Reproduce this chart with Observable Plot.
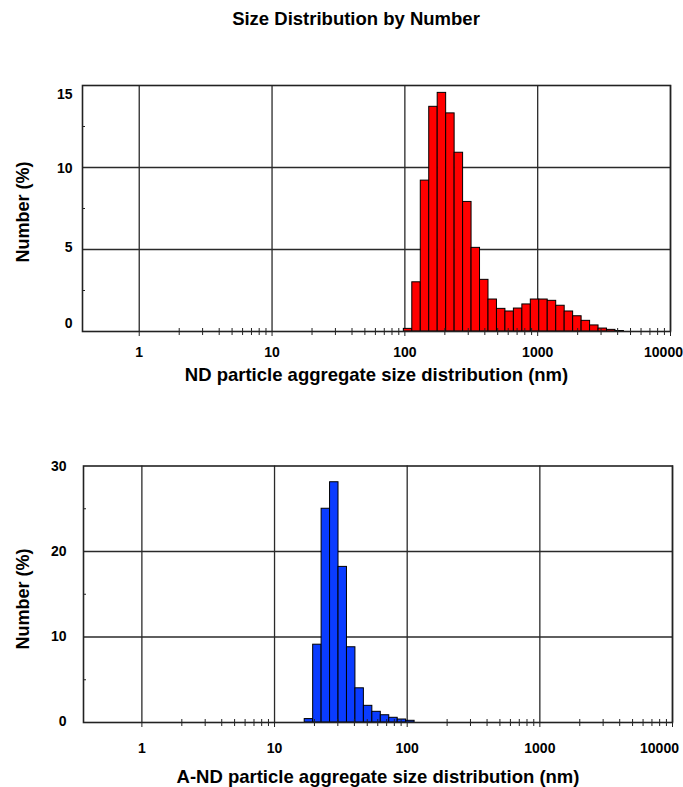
<!DOCTYPE html>
<html><head><meta charset="utf-8">
<script src="https://cdn.jsdelivr.net/npm/d3@7"></script>
<script src="https://cdn.jsdelivr.net/npm/@observablehq/plot@0.6"></script>
<style>
body{margin:0;background:#fff;font-family:"Liberation Sans",Arial,sans-serif;}
#wrap{position:relative;width:683px;height:787px;overflow:hidden;}
#title{position:absolute;top:0;left:29px;width:654px;height:38px;line-height:38px;text-align:center;font-weight:bold;font-size:18.5px;color:#000;}
#c1{position:absolute;top:38px;left:0}
#c2{position:absolute;top:396px;left:0}
.ytitle{position:absolute;left:23px;transform:translate(-50%,-50%) rotate(-90deg);white-space:nowrap;font-weight:bold;font-size:18px;line-height:20px;color:#000;}
</style></head><body>
<div id="wrap"><div id="title">Size Distribution by Number</div><div id="c1"></div><div id="c2"></div>
<div class="ytitle" id="yt1" style="top:212px">Number (%)</div>
<div class="ytitle" id="yt2" style="top:599px">Number (%)</div></div>
<script>
// Zetasizer size classes (nm) with non-zero counts
const ndSizes = [105.7, 122.4, 141.8, 164.2, 190.1, 220.2, 255.0, 295.3, 342.0, 396.1, 458.7, 531.2, 615.1, 712.4, 825.0, 955.4, 1106, 1281, 1484, 1718, 1990, 2305, 2669, 3091, 3580, 4145];
const ndNumber = [0.16, 3.0, 9.2, 13.7, 14.55, 13.3, 10.9, 7.9, 5.1, 3.15, 1.95, 1.38, 1.22, 1.4, 1.65, 1.95, 1.95, 1.87, 1.57, 1.22, 0.93, 0.65, 0.37, 0.18, 0.1, 0.03];
const andSizes = [18.17, 21.04, 24.36, 28.21, 32.67, 37.84, 43.82, 50.75, 58.77, 68.06, 78.82, 91.28, 105.7];
const andNumber = [0.4, 9.1, 25.0, 28.1, 18.2, 8.8, 4.0, 1.95, 1.25, 0.85, 0.55, 0.35, 0.2];
const xTickLabels = [1, 10, 100, 1000, 10000];
const topYTicks = [0, 5, 10, 15];
const bottomYTicks = [0, 10, 20, 30];
const xMinorMultipliers = [2, 3, 4, 5, 6, 7, 8, 9];

function bins(sizes, values) {
  const half = Math.sqrt(sizes[1] / sizes[0]);
  return sizes.map((s, i) => ({x1: s / half, x2: s * half, v: values[i]}));
}
const xMinor = xTickLabels.slice(0, -1).flatMap(d => xMinorMultipliers.map(m => d * m));

function chart(o) {
  const yMax = o.yTicks[o.yTicks.length - 1];
  const step = o.yTicks[1] - o.yTicks[0];
  const yGrid = o.yTicks.slice(1, -1);
  const yMinor = o.yTicks.slice(0, -1).map(d => d + step / 2);
  const labelMarks = o.yTicks.map((t, i) => Plot.axisY([t], {
    anchor: "left", tickSize: 0, tickPadding: o.yTickPad, dy: o.yLabelDy[i], label: null, tickFormat: d => String(d)
  }));
  return Plot.plot({
    width: 683,
    height: o.height,
    marginLeft: o.marginLeft,
    marginRight: o.marginRight,
    marginTop: o.marginTop,
    marginBottom: o.marginBottom,
    style: {fontFamily: "Liberation Sans, Arial, sans-serif", fontSize: "14px", fontWeight: "bold", color: "#000", background: "#fff"},
    x: {type: "log", domain: o.xDomain, label: null},
    y: {domain: [0, yMax], label: null},
    marks: [
      Plot.ruleX(xTickLabels, {stroke: "#2a2a2a", strokeWidth: 1.3}),
      Plot.ruleY(yGrid, {stroke: "#2a2a2a", strokeWidth: 1.3}),
      Plot.rectY(o.data, {x1: "x1", x2: "x2", y: "v", fill: o.fill, stroke: "#000", strokeWidth: 1}),
      Plot.frame({stroke: "#222", strokeWidth: 1.6}),
      Plot.axisX(xMinor, {anchor: "bottom", tickSize: 7, dy: -3, tickFormat: () => "", label: null, stroke: "#222"}),
      Plot.axisX(xTickLabels, {anchor: "bottom", tickSize: 5, tickFormat: () => "", label: null, stroke: "#222"}),
      Plot.axisX(xTickLabels.slice(0, -1), {anchor: "bottom", tickSize: 0, tickPadding: o.xTickPad, label: null, tickFormat: d => String(d)}),
      Plot.axisX(xTickLabels.slice(-1), {anchor: "bottom", tickSize: 0, tickPadding: o.xTickPad, dx: o.lastDx, label: null, tickFormat: d => String(d)}),
      Plot.axisY(yMinor, {anchor: "left", tickSize: 3, dx: 3, tickFormat: () => "", label: null, stroke: "#222"}),
      ...labelMarks,
      Plot.text([o.xLabel], {text: d => d, frameAnchor: "bottom", dy: o.xLabelDy, fontSize: 18.5, fontWeight: "bold", lineAnchor: "middle"})
    ]
  });
}

document.getElementById("c1").append(chart({
  data: bins(ndSizes, ndNumber), fill: "#ff0000",
  yTicks: topYTicks, yLabelDy: [-8, -2, 1, 9], yTickPad: 10,
  xDomain: [0.374, 10000], height: 358,
  marginLeft: 82, marginRight: 13, marginTop: 47, marginBottom: 65,
  xTickPad: 16, lastDx: -7, xLabelDy: 44,
  xLabel: "ND particle aggregate size distribution (nm)"
}));

document.getElementById("c2").append(chart({
  data: bins(andSizes, andNumber), fill: "#0a3cff",
  yTicks: bottomYTicks, yLabelDy: [-1, 0, 0, 1], yTickPad: 17,
  xDomain: [0.363, 10000], height: 391,
  marginLeft: 83, marginRight: 11, marginTop: 69.5, marginBottom: 65,
  xTickPad: 21, lastDx: -13, xLabelDy: 55,
  xLabel: "A-ND particle aggregate size distribution (nm)"
}));
</script>
</body></html>
